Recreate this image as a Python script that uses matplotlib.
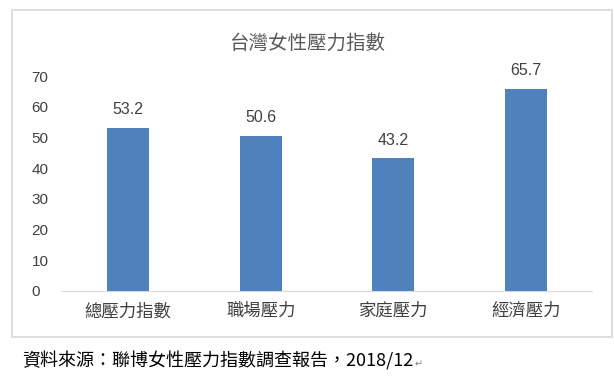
import matplotlib
matplotlib.use('Agg')
import matplotlib.pyplot as plt
from matplotlib.patches import Rectangle

plt.rcParams['font.family'] = ['Noto Sans CJK TC', 'DejaVu Sans']

categories = ['總壓力指數', '職場壓力', '家庭壓力', '經濟壓力']
values = [53.2, 50.6, 43.2, 65.7]
yticks = [0, 10, 20, 30, 40, 50, 60, 70]

W, H = 614, 380
fig = plt.figure(figsize=(W / 100, H / 100), dpi=100)

# chart frame
fig.patches.append(Rectangle((12 / W, 1 - 337 / H), 600 / W, 327 / H,
                             transform=fig.transFigure, fill=False,
                             edgecolor='#d9d9d9', linewidth=1.2))

ax = fig.add_axes([62 / W, 89 / H, 530 / W, (291 - 76) / H])
xx = range(len(categories))
ax.bar(xx, values, width=0.32, color='#4f81bd')
for x, v in zip(xx, values):
    ax.text(x, v + 3.5, '%.1f' % v, ha='center', va='bottom',
            fontsize=11.5, color='#404040', family=['Liberation Sans'])

ax.set_xlim(-0.5, len(categories) - 0.5)
ax.set_ylim(0, 70)
ax.set_yticks(yticks)
ax.set_yticklabels([str(t) for t in yticks], family=['Liberation Sans'],
                   fontsize=11, color='#404040')
ax.set_xticks(list(xx))
ax.set_xticklabels(categories, fontsize=12.5, color='#404040', weight='light')
ax.tick_params(axis='both', length=0)
ax.tick_params(axis='y', pad=22)
for lbl in ax.get_yticklabels():
    lbl.set_horizontalalignment('left')
ax.tick_params(axis='x', pad=8)
for s in ['top', 'right', 'left']:
    ax.spines[s].set_visible(False)
ax.spines['bottom'].set_color('#d9d9d9')

fig.text(307 / W, 1 - 43 / H, '台灣女性壓力指數', ha='center', va='center',
         fontsize=14, color='#595959', weight='light')
fig.text(22 / W, 1 - 361 / H, '資料來源：聯博女性壓力指數調查報告，2018/12', ha='left',
         va='center', fontsize=13, color='black', weight='light')
fig.text(415 / W, 1 - 364 / H, '↵', ha='left', va='center',
         fontsize=7, color='#808080', family=['DejaVu Sans'])

fig.savefig('out.png', dpi=100)
